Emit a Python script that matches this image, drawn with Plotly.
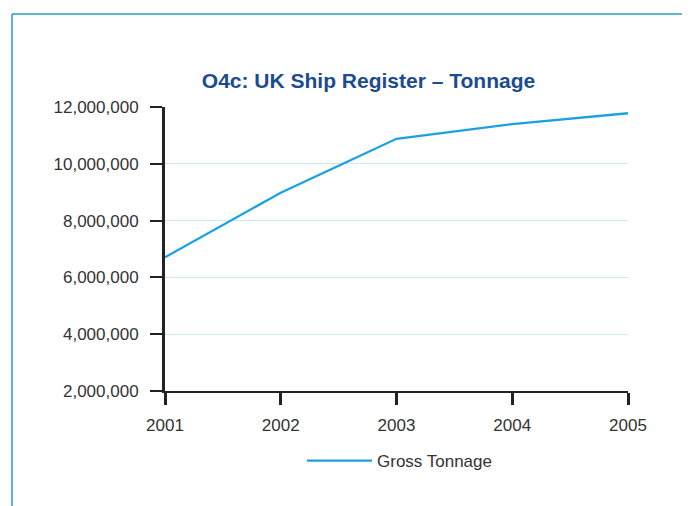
import plotly.graph_objects as go

years = [2001, 2002, 2003, 2004, 2005]
gross_tonnage = [6710000, 8980000, 10880000, 11400000, 11780000]
y_ticks = [2000000, 4000000, 6000000, 8000000, 10000000, 12000000]
y_tick_labels = ['2,000,000', '4,000,000', '6,000,000', '8,000,000', '10,000,000', '12,000,000']

font_family = 'Liberation Sans, Arial, sans-serif'
border_color = '#2b9cc6'

# the page body has an 8px margin, so the figure is laid out 8px up/left
W, H = 690, 506
L, R, T, B = 157, 70, 99, 123
plot_w = W - L - R
plot_h = H - T - B

fig = go.Figure()
fig.add_trace(go.Scatter(
    x=years,
    y=gross_tonnage,
    mode='lines',
    name='Gross Tonnage',
    line=dict(color='#1ba1e2', width=2.3)
))

fig.update_layout(
    width=W,
    height=H,
    margin=dict(l=L, r=R, t=T, b=B),
    paper_bgcolor='white',
    plot_bgcolor='white',
    font=dict(family=font_family, size=17, color='#333333'),
    title=dict(
        text='<b>O4c: UK Ship Register – Tonnage</b>',
        font=dict(family='Liberation Sans Narrow, Arial Narrow, sans-serif', size=21, color='#1d4b8f'),
        x=360.5 / W, xanchor='center',
        y=1 - 73 / H, yanchor='middle'
    ),
    showlegend=True,
    legend=dict(
        orientation='h',
        x=0.5 + 3 / plot_w, xanchor='center',
        y=-70 / plot_h, yanchor='middle',
        font=dict(size=17, color='#333333'),
        itemwidth=65
    ),
    xaxis=dict(
        range=[2001, 2005],
        tickvals=years,
        ticktext=[str(y) for y in years],
        showgrid=False,
        zeroline=False,
        showline=True,
        linecolor='#222222',
        linewidth=2,
        ticks='outside',
        ticklen=12,
        tickwidth=3,
        tickcolor='#222222',
        ticklabelstandoff=6,
        tickfont=dict(size=17, color='#333333')
    ),
    yaxis=dict(
        range=[2000000, 12000000],
        tickvals=y_ticks,
        ticktext=y_tick_labels,
        showgrid=True,
        gridcolor='#cde9f6',
        gridwidth=1,
        zeroline=False,
        showline=True,
        linecolor='#222222',
        linewidth=3,
        ticks='outside',
        ticklen=12,
        tickwidth=2,
        tickcolor='#222222',
        ticklabelstandoff=8,
        tickfont=dict(size=17, color='#333333')
    ),
    shapes=[
        # outer frame that runs off the right and bottom edges
        dict(type='line', xref='paper', yref='paper',
             x0=(4 - L) / plot_w, x1=(W + 10 - L) / plot_w,
             y0=(H - B - 6) / plot_h, y1=(H - B - 6) / plot_h,
             line=dict(color=border_color, width=1.5)),
        dict(type='line', xref='paper', yref='paper',
             x0=(4 - L) / plot_w, x1=(4 - L) / plot_w,
             y0=(H - B - 6) / plot_h, y1=(H - B - H - 10) / plot_h,
             line=dict(color=border_color, width=1.5)),
    ]
)

fig.write_html("out.html")
